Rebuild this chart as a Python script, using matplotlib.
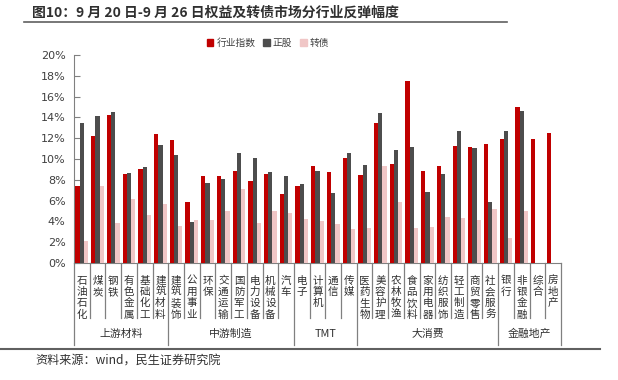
import matplotlib
matplotlib.use("Agg")
import matplotlib.pyplot as plt
from matplotlib.lines import Line2D
from matplotlib.patches import Patch
import numpy as np

plt.rcParams['font.family'] = ['Noto Sans CJK SC', 'DejaVu Sans']

categories = ["石油石化", "煤炭", "钢铁", "有色金属", "基础化工", "建筑材料",
              "建筑装饰", "公用事业", "环保", "交通运输", "国防军工", "电力设备", "机械设备", "汽车",
              "电子", "计算机", "通信", "传媒",
              "医药生物", "美容护理", "农林牧渔", "食品饮料", "家用电器", "纺织服饰", "轻工制造", "商贸零售", "社会服务",
              "银行", "非银金融", "综合", "房地产"]
industry = [7.42, 12.23, 14.19, 8.60, 9.02, 12.36,
            11.78, 5.91, 8.38, 8.35, 8.80, 7.87, 8.60, 6.61,
            7.45, 9.31, 8.73, 10.11,
            8.46, 13.45, 9.50, 17.46, 8.89, 9.28, 11.24, 11.14, 11.40,
            11.97, 14.99, 11.91, 12.52]
stock = [13.42, 14.16, 14.48, 8.67, 9.25, 11.30,
         10.43, 3.98, 7.74, 8.03, 10.53, 10.14, 8.73, 8.35,
         7.64, 8.83, 6.74, 10.56,
         9.47, 14.41, 10.82, 11.11, 6.81, 8.60, 12.74, 11.01, 5.84,
         12.71, 14.57, np.nan, np.nan]
cb = [2.12, 7.38, 3.88, 6.13, 4.59, 5.65,
      3.53, 4.11, 4.11, 4.98, 7.09, 3.85, 4.98, 4.78,
      4.21, 4.04, 3.76, 3.24,
      3.37, 9.34, 5.87, 3.40, 3.43, 4.43, 4.37, 4.11, 5.17,
      2.41, 5.01, np.nan, np.nan]
groups = ["上游材料", "中游制造", "TMT", "大消费", "金融地产"]
group_sizes = [6, 8, 4, 9, 4]
series_names = ["行业指数", "正股", "转债"]
yticks = [0, 2, 4, 6, 8, 10, 12, 14, 16, 18, 20]

c_red = "#C00000"
c_dark = "#4D4D4D"
c_pink = "#F0C6C6"

W, H = 618, 380
AX_TOP, AX_BOT = 55, 263
AX_H = AX_BOT - AX_TOP
fig = plt.figure(figsize=(W / 100, H / 100), dpi=100)
ax = fig.add_axes([74 / W, 1 - AX_BOT / H, (561 - 74) / W, AX_H / H])

def ypx(p):
    """figure-pixel row below axis -> axes fraction"""
    return -(p - AX_BOT) / AX_H

n = len(categories)
x = np.arange(n) + 0.5
bw = 0.27
ax.bar(x - bw, industry, bw, color=c_red, zorder=3)
ax.bar(x, stock, bw, color=c_dark, zorder=3)
ax.bar(x + bw, cb, bw, color=c_pink, zorder=3)

ax.set_xlim(0, n)
ax.set_ylim(0, 20)
ax.set_yticks(yticks)
ax.set_yticklabels([f"{v}%" for v in yticks], fontsize=8, color="#404040",
                   family=['DejaVu Sans'])
ax.tick_params(axis='y', direction='in', length=4, color="#808080", pad=6)
ax.set_xticks([])
for s in ['top', 'right']:
    ax.spines[s].set_visible(False)
ax.spines['left'].set_color("#808080")
ax.spines['bottom'].set_color("#808080")

trans = ax.get_xaxis_transform()
# category labels (vertical stacked, one glyph per row)
pitch = 11.3
for i, c in enumerate(categories):
    for k, ch in enumerate(c):
        ax.text(i + 0.5, ypx(280.7 + k * pitch), ch, transform=trans, ha='center',
                va='center', fontsize=7.6, color="#303030")

# separators
bounds = np.concatenate([[0], np.cumsum(group_sizes)])
for b in range(n + 1):
    y1 = ypx(345) if b in bounds else ypx(318)
    ax.add_line(Line2D([b, b], [0, y1], transform=trans, color="#808080",
                       lw=0.9, clip_on=False))

# group labels
for g, lo, hi in zip(groups, bounds[:-1], bounds[1:]):
    ax.text((lo + hi) / 2, ypx(334), g, transform=trans,
            ha='center', va='center', fontsize=7.8, color="#303030")

# legend
handles = [Patch(color=c) for c in (c_red, c_dark, c_pink)]
fig.legend(handles, series_names, loc='center', bbox_to_anchor=(268 / W, 1 - 43 / H),
           ncol=3, frameon=False, fontsize=7.0, handlelength=0.7, handleheight=0.7,
           handletextpad=0.3, columnspacing=0.8, labelcolor="#404040")

# title and decoration lines
fig.text(32 / W, 1 - 13 / H, "图10：9 月 20 日-9 月 26 日权益及转债市场分行业反弹幅度",
         fontsize=10.0, fontweight='bold', color="#303030", ha='left', va='center')
fig.add_artist(Line2D([24 / W, 507 / W], [1 - 21.5 / H, 1 - 21.5 / H], color="#606060", lw=1.2))
fig.add_artist(Line2D([0, 600 / W], [1 - 349 / H, 1 - 349 / H], color="#606060", lw=1.5))
fig.text(35 / W, 1 - 361 / H, "资料来源：wind，民生证券研究院", fontsize=8.7,
         color="#303030", ha='left', va='center')

fig.savefig("out.png", dpi=100)
